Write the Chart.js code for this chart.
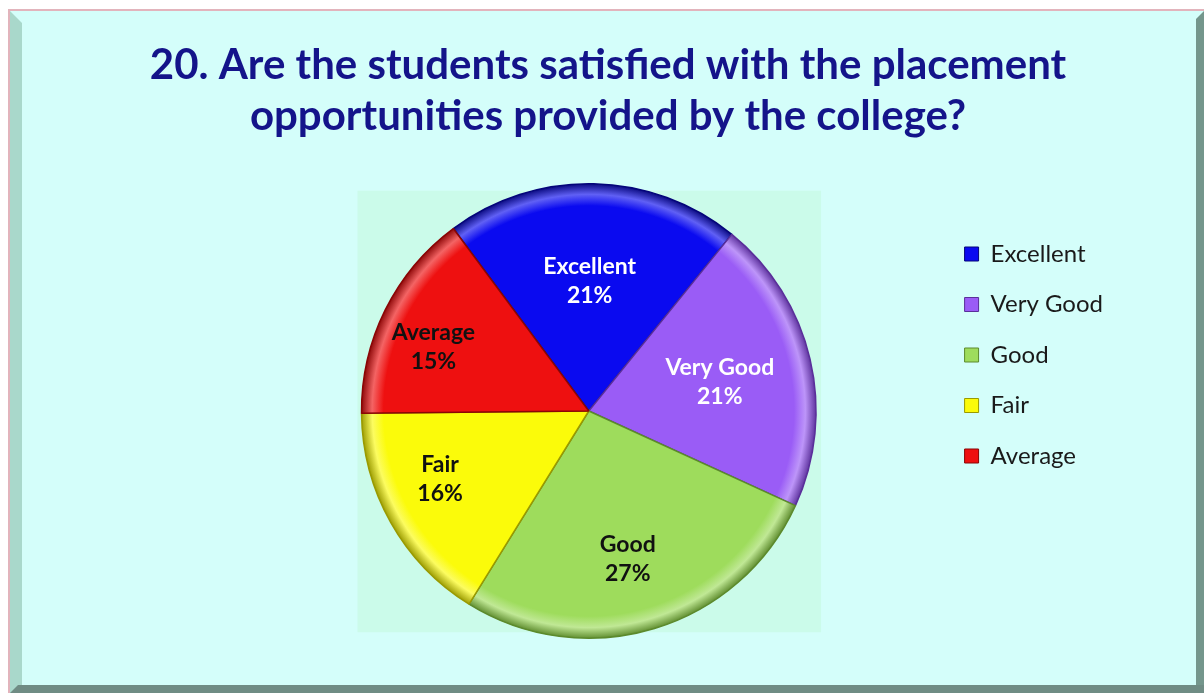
<!DOCTYPE html>
<html>
<head>
<meta charset="utf-8">
<script src="https://cdn.jsdelivr.net/npm/chart.js@4.4.1/dist/chart.umd.min.js"></script>
<style>
  html, body { margin: 0; padding: 0; background: #ffffff; }
  body { width: 1204px; height: 693px; position: relative; overflow: hidden; }
  .frame { position: absolute; left: 8px; top: 9px; width: 1196px; height: 684px;
           border-top: 2px solid #e2b4bc; border-left: 2px solid #e2b4bc; background: #d4fefa; box-sizing: border-box; }
  .bevel-left { position: absolute; left: 10px; top: 11px; width: 12px; height: 682px; background: #a9d8cb;
                clip-path: polygon(0 0, 100% 12px, 100% 100%, 0 100%); }
  .bevel-right { position: absolute; left: 1196px; top: 11px; width: 8px; height: 682px; background: #74968c;
                 clip-path: polygon(0 8px, 100% 0, 100% 100%, 0 100%); }
  .bevel-bottom { position: absolute; left: 10px; top: 685px; width: 1194px; height: 8px; background: #6f8c84;
                  clip-path: polygon(8px 0, 100% 0, 100% 100%, 0 100%); }
  #wrap { position: absolute; left: 0; top: 0; width: 1204px; height: 693px; }
</style>
</head>
<body>
<div class="frame"></div>
<div class="bevel-left"></div>
<div class="bevel-right"></div>
<div class="bevel-bottom"></div>
<div id="wrap"><canvas id="grafica"></canvas></div>
<script>
const titulo = [
    '20. Are the students satisfied with the placement',
    'opportunities provided by the college?'
];
const categorias = ['Excellent', 'Very Good', 'Good', 'Fair', 'Average'];
const porcentajes = [21, 21, 27, 16, 15];

// estilo
const colores = ['#0a0af0', '#9a5cf6', '#9edc5c', '#fbfb0a', '#ee1010'];
const bordes = ['#05057a', '#5a2f9a', '#5c8a2c', '#9a9a00', '#8a0505'];
const coloresTexto = ['#ffffff', '#ffffff', '#111111', '#111111', '#111111'];
const radioEtiqueta = [0.57, 0.59, 0.675, 0.72, 0.74];
const giroEtiqueta = [-0.8, 0.9, 2.1, 4.7, -3.9];

function aclarar(hex, f) {
    const n = parseInt(hex.slice(1), 16);
    let r = (n >> 16) & 255, g = (n >> 8) & 255, b = n & 255;
    r = Math.round(r + (255 - r) * f); g = Math.round(g + (255 - g) * f); b = Math.round(b + (255 - b) * f);
    return `rgb(${r},${g},${b})`;
}

function relleno(context) {
    const chart = context.chart;
    const ca = chart.chartArea;
    const base = colores[context.dataIndex];
    if (!ca) return base;
    const cx = (ca.left + ca.right) / 2;
    const cy = (ca.top + ca.bottom) / 2;
    const r = Math.min(ca.right - ca.left, ca.bottom - ca.top) / 2;
    const g = chart.ctx.createRadialGradient(cx, cy, 0, cx, cy, r);
    g.addColorStop(0, base);
    g.addColorStop(0.9, base);
    g.addColorStop(0.95, aclarar(base, 0.35));
    g.addColorStop(1, bordes[context.dataIndex]);
    return g;
}

const fondoGrafica = {
    id: 'fondoGrafica',
    beforeDatasetsDraw(chart) {
        const arc = chart.getDatasetMeta(0).data[0];
        if (!arc) return;
        const r = arc.outerRadius;
        const ctx = chart.ctx;
        ctx.save();
        ctx.fillStyle = '#cbfbea';
        ctx.fillRect(arc.x - r - 4, arc.y - r + 7, 2 * r + 9, 2 * r - 13);
        ctx.restore();
    }
};

const etiquetas = {
    id: 'etiquetas',
    afterDatasetsDraw(chart) {
        const ctx = chart.ctx;
        const total = porcentajes.reduce((a, b) => a + b, 0);
        ctx.save();
        ctx.font = 'bold 23px Lato';
        ctx.textAlign = 'center';
        ctx.textBaseline = 'middle';
        chart.getDatasetMeta(0).data.forEach((arc, i) => {
            const ang = (arc.startAngle + arc.endAngle) / 2 + giroEtiqueta[i] * Math.PI / 180;
            const d = arc.outerRadius * radioEtiqueta[i];
            const x = arc.x + Math.cos(ang) * d;
            const y = arc.y + Math.sin(ang) * d;
            ctx.fillStyle = coloresTexto[i];
            ctx.fillText(categorias[i], x, y - 14.5);
            ctx.fillText(Math.round(porcentajes[i] / total * 100) + '%', x, y + 14.5);
        });
        ctx.restore();
    }
};

window.onload = function () {
    const ctx = document.getElementById('grafica').getContext('2d');
    new Chart(ctx, {
        type: 'pie',
        data: {
            labels: categorias,
            datasets: [{
                data: porcentajes,
                backgroundColor: relleno,
                borderColor: bordes,
                borderWidth: 1.5
            }]
        },
        options: {
            responsive: true,
            maintainAspectRatio: false,
            animation: false,
            rotation: -36.6,
            layout: {
                padding: { top: 40, left: 103, right: 91, bottom: 54 }
            },
            plugins: {
                tooltip: { enabled: false },
                title: {
                    display: true,
                    text: titulo,
                    color: '#14148a',
                    font: { family: 'Lato', size: 42, weight: 'bold', lineHeight: 1.214 },
                    padding: { top: 0, bottom: 41 }
                },
                // espacio vacio a la izquierda para centrar el pastel bajo el titulo
                subtitle: {
                    display: true,
                    position: 'left',
                    fullSize: false,
                    text: '',
                    font: { size: 10 },
                    padding: 62.25
                },
                legend: {
                    position: 'right',
                    align: 'start',
                    title: { display: true, text: '', font: { size: 10 }, padding: 81.75 },
                    labels: {
                        boxWidth: 14,
                        boxHeight: 14,
                        padding: 26.5,
                        color: '#1a1a1a',
                        font: { family: 'Lato', size: 24 },
                        generateLabels(chart) {
                            return categorias.map((c, i) => ({
                                text: c,
                                fillStyle: colores[i],
                                strokeStyle: bordes[i],
                                lineWidth: 1,
                                fontColor: '#1a1a1a',
                                index: i
                            }));
                        }
                    }
                }
            }
        },
        plugins: [fondoGrafica, etiquetas]
    });
};
</script>
</body>
</html>
